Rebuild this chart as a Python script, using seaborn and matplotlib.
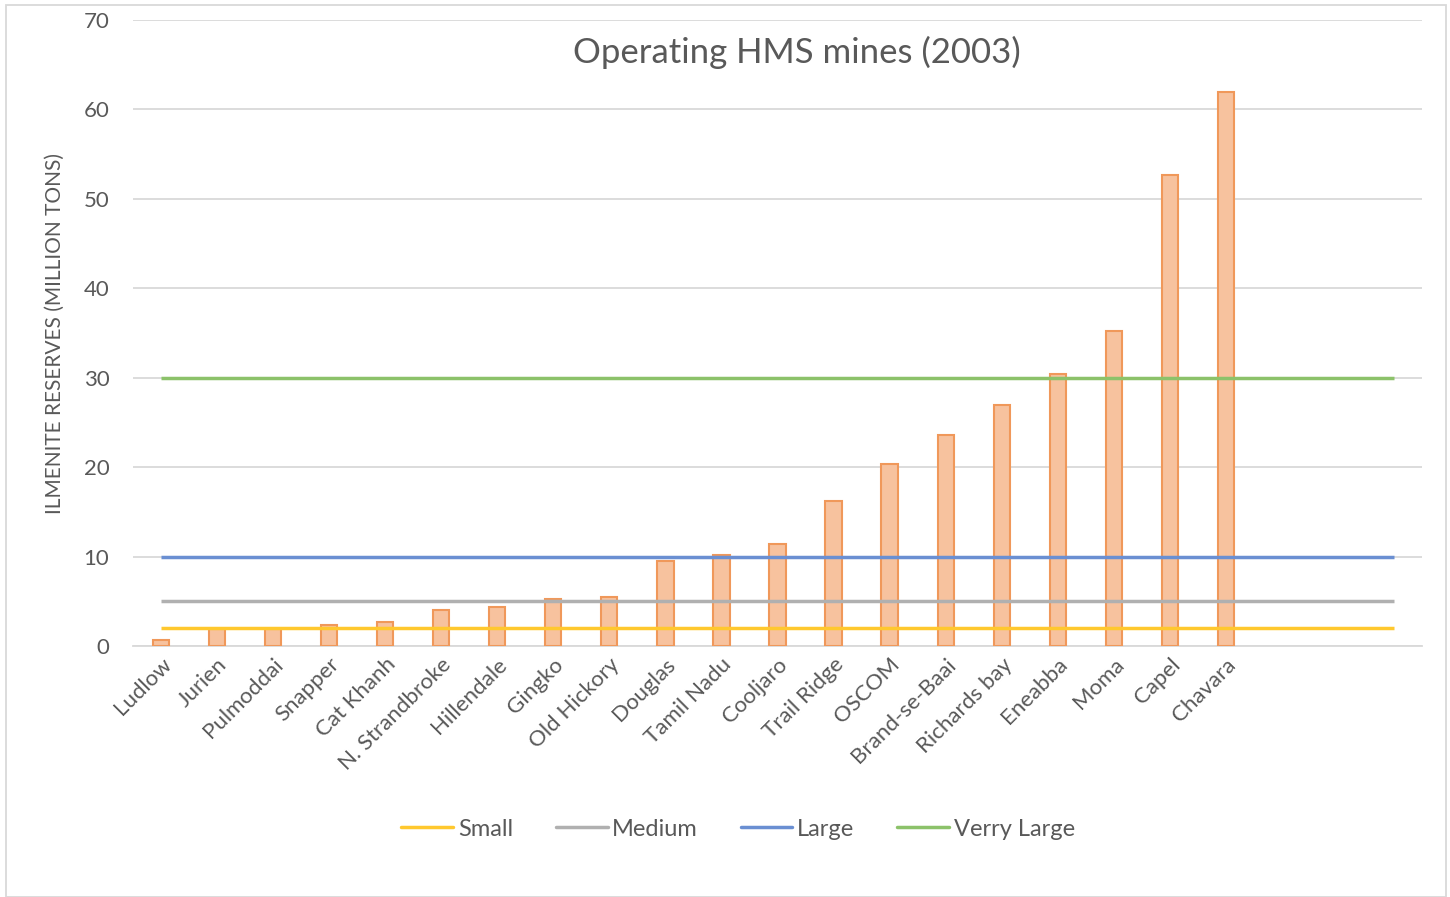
import matplotlib
matplotlib.use("Agg")
import matplotlib.pyplot as plt
import seaborn as sns
import pandas as pd
import numpy as np
from matplotlib.patches import Rectangle
from matplotlib.lines import Line2D

mines = ["Ludlow", "Jurien", "Pulmoddai", "Snapper", "Cat Khanh", "N. Strandbroke",
         "Hillendale", "Gingko", "Old Hickory", "Douglas", "Tamil Nadu", "Cooljaro",
         "Trail Ridge", "OSCOM", "Brand-se-Baai", "Richards bay", "Eneabba", "Moma",
         "Capel", "Chavara"]
reserves = [0.7, 1.9, 1.9, 2.3, 2.7, 4.0, 4.4, 5.3, 5.5, 9.5, 10.2, 11.4,
            16.2, 20.3, 23.6, 27.0, 30.4, 35.2, 52.7, 62.0]
empty_slots = [" ", "  ", "   "]

class_names = ["Small", "Medium", "Large", "Verry Large"]
class_limits = [2, 5, 10, 30]
class_colors = ["#FFC82E", "#B0B0B0", "#6A8FD2", "#8CC26A"]

categories = mines + empty_slots
df = pd.DataFrame({"mine": categories,
                   "reserves": reserves + [np.nan] * len(empty_slots)})

sns.set_theme(style="white")
plt.rcParams["font.family"] = ["Lato", "DejaVu Sans"]

fig = plt.figure(figsize=(14.5, 8.97), dpi=100)
ax = fig.add_axes([133 / 1450, 1 - 646 / 897, (1422 - 133) / 1450, (646 - 20) / 897])

sns.barplot(data=df, x="mine", y="reserves", order=categories, ax=ax,
            width=0.29, color="#F7C29E", edgecolor="#F0985A", linewidth=1.5,
            saturation=1, zorder=3)

n = len(categories)
for name, lim, col in zip(class_names, class_limits, class_colors):
    ax.plot([0, n - 1], [lim, lim], color=col, linewidth=2.5, zorder=4,
            solid_capstyle="butt", label=name)

ax.set_ylim(0, 70)
ax.set_xlim(-0.5, n - 0.5)
ax.set_yticks(range(0, 71, 10))
ax.yaxis.grid(True, color="#D9D9D9", linewidth=1.3, zorder=0)
ax.set_axisbelow(True)
for s in ["top", "right", "left"]:
    ax.spines[s].set_visible(False)
ax.spines["bottom"].set_color("#D9D9D9")
ax.spines["bottom"].set_linewidth(1.3)
ax.tick_params(axis="both", length=0, colors="#595959", labelsize=16)
ax.tick_params(axis="y", pad=17)
ax.tick_params(axis="x", pad=6)
ax.set_xticks(range(n))
ax.set_xticklabels(categories, rotation=45, ha="right", rotation_mode="anchor",
                   color="#595959", fontsize=16)
ax.set_xlabel("")
ax.set_ylabel("ILMENITE RESERVES (MILLION TONS)", color="#595959", fontsize=15)
ax.yaxis.set_label_coords((65 - 133) / 1289, 0.5)

fig.text(797 / 1450, 1 - 52 / 897, "Operating HMS mines (2003)", ha="center", va="center",
         fontsize=25, color="#595959")

handles = [Line2D([0], [0], color=c, linewidth=2.5) for c in class_colors]
fig.legend(handles, class_names, loc="center", bbox_to_anchor=(738 / 1450, 1 - 829 / 897),
           ncol=4, frameon=False, fontsize=17, handlelength=2.2, handletextpad=0.2,
           columnspacing=1.8, labelcolor="#595959")

fig.patches.append(Rectangle((6 / 1450, 0), (1446 - 6) / 1450, 1 - 5 / 897,
                             transform=fig.transFigure, fill=False,
                             edgecolor="#D9D9D9", linewidth=1.3))

fig.savefig("out.png", dpi=100)
